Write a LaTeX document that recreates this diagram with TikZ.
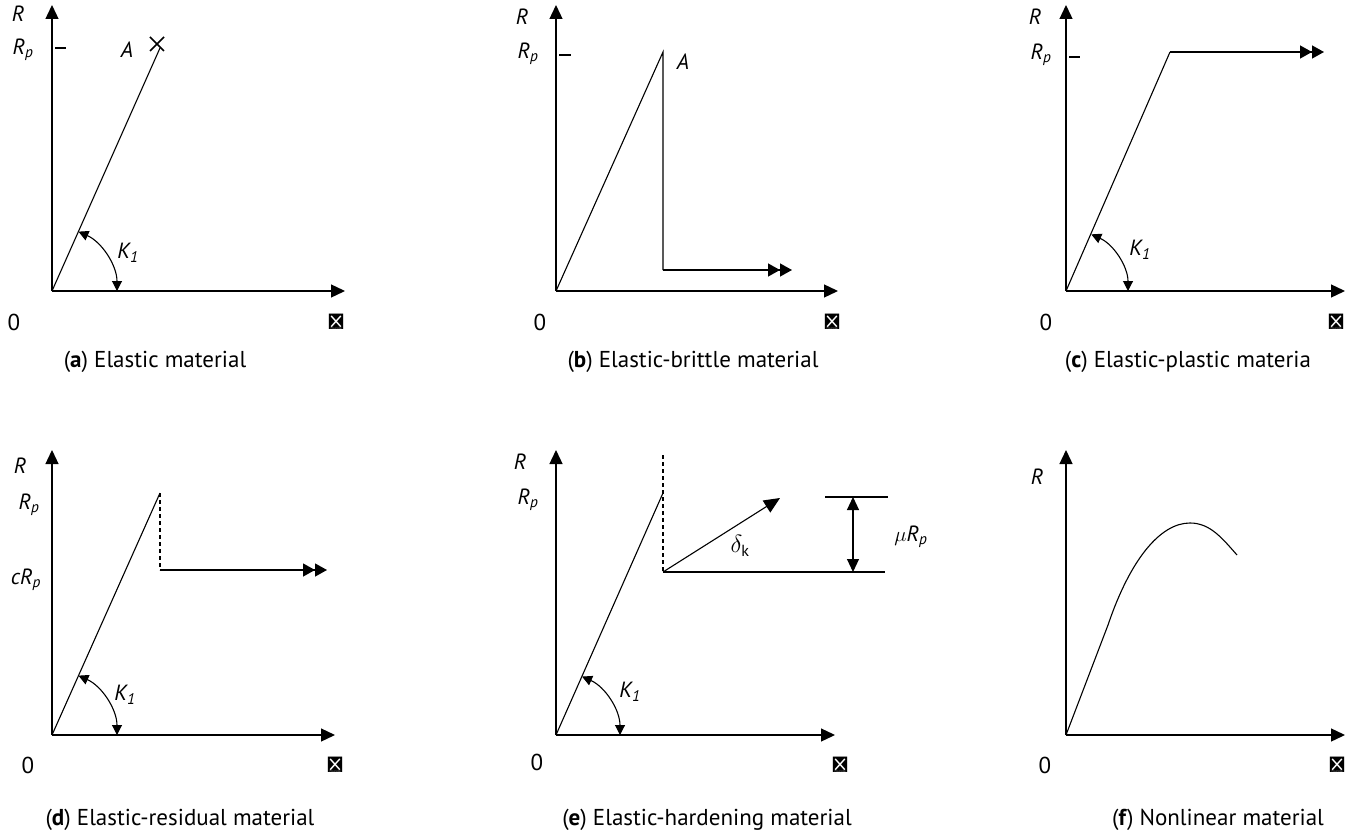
\documentclass[tikz,border=0pt]{standalone}
\usepackage{fontspec}
\setmainfont{PT Sans}
\usetikzlibrary{arrows.meta,positioning,calc}

\begin{document}
\begin{tikzpicture}[
    x=1pt, y=-1pt,
    axis/.style = {line width=1.3pt, -{Triangle[length=14pt,width=13pt]}},
    curve/.style = {line width=1.1pt},
    dashline/.style = {line width=1.1pt, dash pattern=on 4pt off 3pt},
    dbl/.style = {line width=1.3pt, -{Triangle[length=12pt,width=13pt]Triangle[length=12pt,width=13pt]}},
    karc/.style = {line width=1.1pt, {Triangle[length=10pt,width=10pt]}-{Triangle[length=10pt,width=10pt]}},
    lbl/.style = {font=\fontsize{22}{26}\selectfont\itshape, inner sep=1pt},
    captxt/.style = {font=\fontsize{23}{27}\selectfont, inner sep=1pt}
  ]
  \useasboundingbox (0,0) rectangle (1352,837);

  % axes of the six panels
  \foreach \n/\ox/\oy/\ty/\ex in {a/52/291/5/345, b/556/291/5/838, c/1066/291/5/1345,
                                  d/52/735/450/335, e/556/735/450/835, f/1066/735/450/1345} {
    \coordinate (o\n) at (\ox,\oy);
    \coordinate (t\n) at (\ox,\ty);
    \coordinate (x\n) at (\ex,\oy);
    \draw[axis] (o\n) -- (t\n);
    \draw[axis] (o\n) -- (x\n);
  }

  % (a) elastic
  \coordinate (pa) at (160,48);
  \draw[curve] (oa) -- (pa);
  \draw[line width=1.3pt] (55,48) -- (66,48);
  \draw[line width=1.6pt] (150,37) -- (164,51) (150,51) -- (164,37);
  \draw[karc] ($(oa)+(-66:65)$) arc (-66:0:65);
  \node[lbl] (Ra) at (18,14) {R};
  \node[lbl] (Rpa) at (23,50) {R\textsubscript{p}};
  \node[lbl] (Aa) at (127,50) {A};
  \node[lbl] (Ka) at (128,253) {K\textsubscript{1}};
  \node[captxt] (Za) at (14,322) {0};
  \node[lbl] (Da) at (336,322) {$\mathit{\Delta}$};
  \node[captxt] (capa) at (155,362) {(\textbf{a}) Elastic material};

  % (b) elastic-brittle
  \coordinate (pb) at (663,52);
  \coordinate (qb) at (663,270);
  \coordinate (rb) at (792,270);
  \draw[curve] (ob) -- (pb) -- (qb);
  \draw[dbl] (qb) -- (rb);
  \draw[line width=1.3pt] (559,55) -- (571,55);
  \node[lbl] (Rb) at (522,17) {R};
  \node[lbl] (Rpb) at (528,54) {R\textsubscript{p}};
  \node[lbl] (Ab) at (683,62) {A};
  \node[captxt] (Zb) at (540,322) {0};
  \node[lbl] (Db) at (832,322) {$\mathit{\Delta}$};
  \node[captxt] (capb) at (693,362) {(\textbf{b}) Elastic-brittle material};

  % (c) elastic-plastic
  \coordinate (pc) at (1170,52);
  \coordinate (rc) at (1324,52);
  \draw[curve] (oc) -- (pc);
  \draw[dbl] (pc) -- (rc);
  \draw[line width=1.3pt] (1069,57) -- (1080,57);
  \draw[karc] ($(oc)+(-66:62)$) arc (-66:0:62);
  \node[lbl] (Rc) at (1035,17) {R};
  \node[lbl] (Rpc) at (1041,55) {R\textsubscript{p}};
  \node[lbl] (Kc) at (1140,250) {K\textsubscript{1}};
  \node[captxt] (Zc) at (1046,322) {0};
  \node[lbl] (Dc) at (1336,322) {$\mathit{\Delta}$};
  \node[captxt] (capc) at (1188,362) {(\textbf{c}) Elastic-plastic materia};

  % (d) elastic-residual
  \coordinate (pd) at (160,493);
  \coordinate (qd) at (160,570);
  \coordinate (rd) at (327,570);
  \draw[curve] (od) -- (pd);
  \draw[dashline] (pd) -- (qd);
  \draw[dbl] (qd) -- (rd);
  \draw[karc] ($(od)+(-66:65)$) arc (-66:0:65);
  \node[lbl] (Rd) at (20,466) {R};
  \node[lbl] (Rpd) at (29,505) {R\textsubscript{p}};
  \node[lbl] (cRd) at (26,580) {cR\textsubscript{p}};
  \node[lbl] (Kd) at (125,695) {K\textsubscript{1}};
  \node[captxt] (Zd) at (28,765) {0};
  \node[lbl] (Dd) at (335,765) {$\mathit{\Delta}$};
  \node[captxt] (capd) at (180,820) {(\textbf{d}) Elastic-residual material};

  % (e) elastic-hardening
  \coordinate (pe) at (663,493);
  \coordinate (se) at (663,455);
  \coordinate (qe) at (663,572);
  \coordinate (re) at (885,572);
  \coordinate (he) at (780,498);
  \coordinate (ul) at (825,497);
  \coordinate (ur) at (888,497);
  \draw[curve] (oe) -- (pe);
  \draw[dashline] (se) -- (qe);
  \draw[curve] (qe) -- (re);
  \draw[curve] (ul) -- (ur);
  \draw[line width=1.1pt, -{Triangle[length=16pt,width=14pt]}] (qe) -- (he);
  \draw[line width=1.1pt, {Triangle[length=13pt,width=12pt]}-{Triangle[length=13pt,width=12pt]}]
    (853,497) -- (853,572);
  \draw[karc] ($(oe)+(-66:64)$) arc (-66:0:64);
  \node[lbl] (Re) at (520,462) {R};
  \node[lbl] (Rpe) at (528,500) {R\textsubscript{p}};
  \node[captxt] (de) at (740,546) {$\delta_{\mathrm{k}}$};
  \node[lbl] (mue) at (911,537) {$\mu$R\textsubscript{p}};
  \node[lbl] (Ke) at (630,692) {K\textsubscript{1}};
  \node[captxt] (Ze) at (537,762) {0};
  \node[lbl] (De) at (840,765) {$\mathit{\Delta}$};
  \node[captxt] (cape) at (707,820) {(\textbf{e}) Elastic-hardening material};

  % (f) nonlinear
  \coordinate (mf) at (1190,523);
  \coordinate (ef) at (1237,555);
  \draw[curve] (of) -- (1108,625) .. controls (1130,560) and (1160,523) .. (mf)
    .. controls (1210,523) and (1222,538) .. (ef);
  \node[lbl] (Rf) at (1037,477) {R};
  \node[captxt] (Zf) at (1045,765) {0};
  \node[lbl] (Df) at (1337,765) {$\mathit{\Delta}$};
  \node[captxt] (capf) at (1218,820) {(\textbf{f}) Nonlinear material};
\end{tikzpicture}
\end{document}
